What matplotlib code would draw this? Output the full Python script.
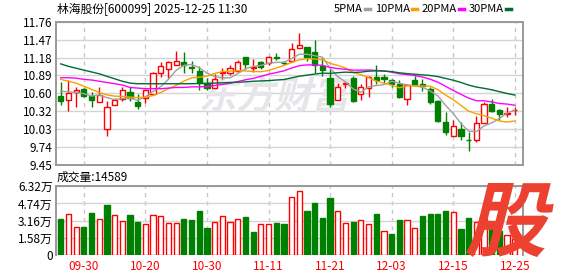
import numpy as np
import pandas as pd
import matplotlib
matplotlib.use('Agg')
import matplotlib.pyplot as plt
from matplotlib.lines import Line2D
from matplotlib.patches import PathPatch
from matplotlib.textpath import TextPath
from matplotlib.font_manager import FontProperties
from matplotlib.transforms import Affine2D

plt.rcParams['font.family'] = ['Noto Sans CJK SC', 'DejaVu Sans']

title = '林海股份[600099] 2025-12-25 11:30'

# daily OHLC, 09-25 .. 12-25
opens = [10.57, 10.50, 10.63, 10.67, 10.57, 10.47, 10.03, 10.425, 10.52, 10.63,
         10.46, 10.53, 10.60, 10.935, 10.99, 11.06, 11.115, 11.03, 10.97, 10.765,
         10.695, 10.925, 10.935, 10.96, 11.19, 11.02, 11.11, 11.09, 11.19, 11.10,
         11.12, 11.335, 11.35, 11.27, 11.04, 10.855, 10.50, 10.75, 10.845, 10.60,
         10.685, 10.865, 10.865, 10.815, 10.75, 10.51, 10.815, 10.75, 10.67, 10.475,
         10.14, 9.925, 10.03, 9.855, 9.845, 10.12, 10.44, 10.335, 10.28, 10.33]
highs = [10.78, 10.82, 10.71, 10.69, 10.63, 10.71, 10.48, 10.53, 10.71, 10.70,
         10.59, 10.66, 10.95, 11.105, 11.13, 11.28, 11.27, 11.12, 11.04, 10.855,
         10.91, 11.015, 11.065, 11.15, 11.19, 11.16, 11.12, 11.215, 11.26, 11.13,
         11.41, 11.575, 11.35, 11.47, 11.175, 10.99, 10.775, 10.785, 10.885, 10.76,
         10.885, 11.07, 10.91, 10.83, 10.82, 10.75, 10.885, 10.83, 10.705, 10.495,
         10.30, 10.175, 10.14, 9.98, 10.245, 10.46, 10.51, 10.35, 10.39, 10.39]
lows = [10.41, 10.32, 10.39, 10.55, 10.39, 10.47, 9.925, 10.425, 10.48, 10.48,
        10.35, 10.45, 10.60, 10.865, 10.85, 11.06, 10.925, 10.925, 10.66, 10.66,
        10.685, 10.84, 10.905, 10.945, 11.005, 10.95, 11.00, 11.07, 11.15, 11.06,
        11.11, 11.335, 11.12, 10.935, 10.88, 10.39, 10.50, 10.695, 10.46, 10.495,
        10.54, 10.75, 10.775, 10.705, 10.525, 10.415, 10.72, 10.645, 10.43, 10.14,
        9.94, 9.925, 9.845, 9.675, 9.82, 10.12, 10.31, 10.175, 10.22, 10.26]
closes = [10.48, 10.605, 10.66, 10.56, 10.50, 10.58, 10.38, 10.50, 10.655, 10.53,
          10.40, 10.66, 10.935, 11.05, 11.115, 11.12, 11.06, 11.015, 10.775, 10.69,
          10.84, 10.955, 11.015, 11.115, 11.08, 11.03, 11.035, 11.195, 11.18, 11.09,
          11.325, 11.39, 11.19, 11.06, 10.98, 10.43, 10.715, 10.77, 10.485, 10.715,
          10.865, 10.82, 10.84, 10.76, 10.55, 10.735, 10.74, 10.73, 10.46, 10.155,
          9.98, 10.075, 9.925, 9.845, 10.12, 10.43, 10.325, 10.28, 10.29, 10.34]
# volume in 万
volumes = [3.30, 3.73, 2.53, 2.56, 3.85, 3.30, 4.59, 3.64, 3.11, 3.67,
           3.02, 2.83, 3.64, 3.54, 2.93, 2.93, 3.30, 3.20, 4.04, 2.46,
           3.02, 3.54, 3.02, 3.30, 3.48, 2.09, 2.83, 2.83, 2.93, 2.83,
           5.30, 5.85, 4.04, 4.78, 3.39, 5.24, 4.00, 2.90, 2.99, 3.17,
           2.80, 3.73, 2.16, 1.91, 3.20, 3.20, 2.46, 3.57, 3.76, 3.76,
           4.04, 3.94, 2.37, 3.39, 3.00, 3.30, 2.60, 2.20, 1.85, 1.4589]

# MA values before enough closes are on the chart
ma5_head = [10.64, 10.63, 10.62, 10.60]
ma10_head = [10.83, 10.80, 10.77, 10.72, 10.67, 10.62, 10.58, 10.56, 10.555]
ma20_head = [10.857, 10.857, 10.85, 10.83, 10.82, 10.80, 10.78, 10.76, 10.74, 10.70,
             10.69, 10.68, 10.68, 10.68, 10.69, 10.70, 10.70, 10.71, 10.71]
ma30_head = [11.08, 11.04, 11.01, 10.98, 10.95, 10.92, 10.88, 10.84, 10.80, 10.77,
             10.76, 10.76, 10.76, 10.76, 10.76, 10.76, 10.76, 10.76, 10.765, 10.765,
             10.77, 10.775, 10.78, 10.785, 10.79, 10.80, 10.805, 10.81, 10.82]

date_idx = [3, 11, 19, 27, 35, 43, 51, 59]
date_labels = ['09-30', '10-20', '10-30', '11-11', '11-21', '12-03', '12-15', '12-25']

price_ticks = ['9.45', '9.74', '10.03', '10.32', '10.60', '10.89', '11.18', '11.47', '11.76']
vol_ticks = ['0', '1.58万', '3.16万', '4.74万', '6.32万']

RED = '#ff0000'
GREEN = '#008000'
FRAME = '#999999'
GRID = '#d4d4d4'


def ma(n, head):
    m = pd.Series(closes).rolling(n).mean().to_numpy()
    m[:len(head)] = head
    return m


def slanted(text, px, py, height, color, z, ax=None):
    # text drawn as a skewed path, placed by pixel position of its lower-left corner
    fp = FontProperties(family='Noto Sans CJK SC', weight='bold')
    tp = TextPath((0, 0), text, size=100, prop=fp)
    bb = tp.get_extents()
    sc = height / bb.height
    tr = (Affine2D().translate(-bb.x0, -bb.y0).scale(sc).skew_deg(14, 0)
          .translate(px, py).scale(1 / W, 1 / H) + fig.transFigure)
    patch = PathPatch(tp, transform=tr, color=color, lw=0, zorder=z)
    if ax is None:
        fig.add_artist(patch)
    else:
        patch.set_clip_on(False)
        ax.add_artist(patch)


W, H = 578, 276
fig = plt.figure(figsize=(W / 100, H / 100), dpi=100)
ax = fig.add_axes([55.5 / W, 1 - 165 / H, 467 / W, 143.3 / H])
ax2 = fig.add_axes([55.5 / W, 1 - 254.7 / H, 467 / W, 68.4 / H])

o = np.array(opens); h = np.array(highs); l = np.array(lows); c = np.array(closes)
x = np.arange(len(c))
up = c >= o

# price panel
ax.vlines(x, l, h, colors=np.where(up, RED, GREEN), lw=1, zorder=2)
ax.bar(x, np.maximum(np.abs(c - o), 0.004), bottom=np.minimum(o, c), width=0.68,
       color=np.where(up, 'white', GREEN), edgecolor=np.where(up, RED, GREEN),
       lw=1, zorder=3)

for n, head, col in [(5, ma5_head, '#a0a0a0'), (10, ma10_head, '#f5a200'),
                     (20, ma20_head, '#ff00ff'), (30, ma30_head, '#006b33')]:
    ax.plot(x, ma(n, head), color=col, lw=1, zorder=4)

ax.set_xlim(-0.68, 60.0)
ax.set_ylim(9.45, 11.76)
ax.set_yticks(np.linspace(9.45, 11.76, 9), price_ticks)
ax.set_xticks([])
ax.set_axisbelow(True)
ax.grid(axis='y', color=GRID, lw=1)
for xi in date_idx:
    ax.axvline(xi, color='#c8c8c8', lw=1, ls=(0, (3, 3)), zorder=0.5)
for s in ax.spines.values():
    s.set_color(FRAME)
    s.set_linewidth(1.4)
ax.tick_params(axis='y', length=0, pad=2, labelsize=8.5)

# watermark behind the candles
slanted('东方财富', 200, H - 112, 36, '#e6e6ea', 0.6, ax=ax)

# volume panel
v = np.array(volumes)
prev = np.r_[o[0], c[:-1]]
vup = c >= prev
ax2.bar(x, v, width=0.68, color=np.where(vup, 'white', GREEN),
        edgecolor=np.where(vup, RED, GREEN), lw=1, zorder=3)
ax2.set_xlim(-0.68, 60.0)
ax2.set_ylim(0, 6.32)
ax2.set_yticks([0, 1.58, 3.16, 4.74, 6.32], vol_ticks)
ax2.set_xticks(date_idx, date_labels)
ax2.set_axisbelow(True)
ax2.grid(axis='y', color=GRID, lw=1)
for xi in date_idx:
    ax2.axvline(xi, color='#c8c8c8', lw=1, ls=(0, (3, 3)), zorder=0.5)
for s in ax2.spines.values():
    s.set_color(FRAME)
    s.set_linewidth(1.4)
ax2.spines['bottom'].set_visible(False)
ax2.tick_params(axis='y', length=0, pad=2, labelsize=8.5)
ax2.tick_params(axis='x', length=0, pad=4, labelsize=8.5, labelcolor=RED)

# header texts
fig.text(57 / W, 1 - 10 / H, title, va='center', fontsize=8.5)
fig.text(57 / W, 1 - 177 / H, '成交量:%d' % round(volumes[-1] * 10000),
         va='center', fontsize=8.5)
for k, (lab, col) in enumerate([('5PMA', '#a0a0a0'), ('10PMA', '#f5a200'),
                                ('20PMA', '#ff00ff'), ('30PMA', '#006b33')]):
    x0 = 363 + 47 * k
    fig.text(x0 / W, 1 - 9 / H, lab, ha='right', va='center', fontsize=8)
    fig.add_artist(Line2D([(x0 + 2) / W, (x0 + 7) / W], [1 - 9 / H, 1 - 9 / H],
                          transform=fig.transFigure, color=col, lw=2.5))

# red logo bottom right
slanted('股', 465, H - 257, 74, '#ec4130', 10)

fig.savefig('out.png', dpi=100)
